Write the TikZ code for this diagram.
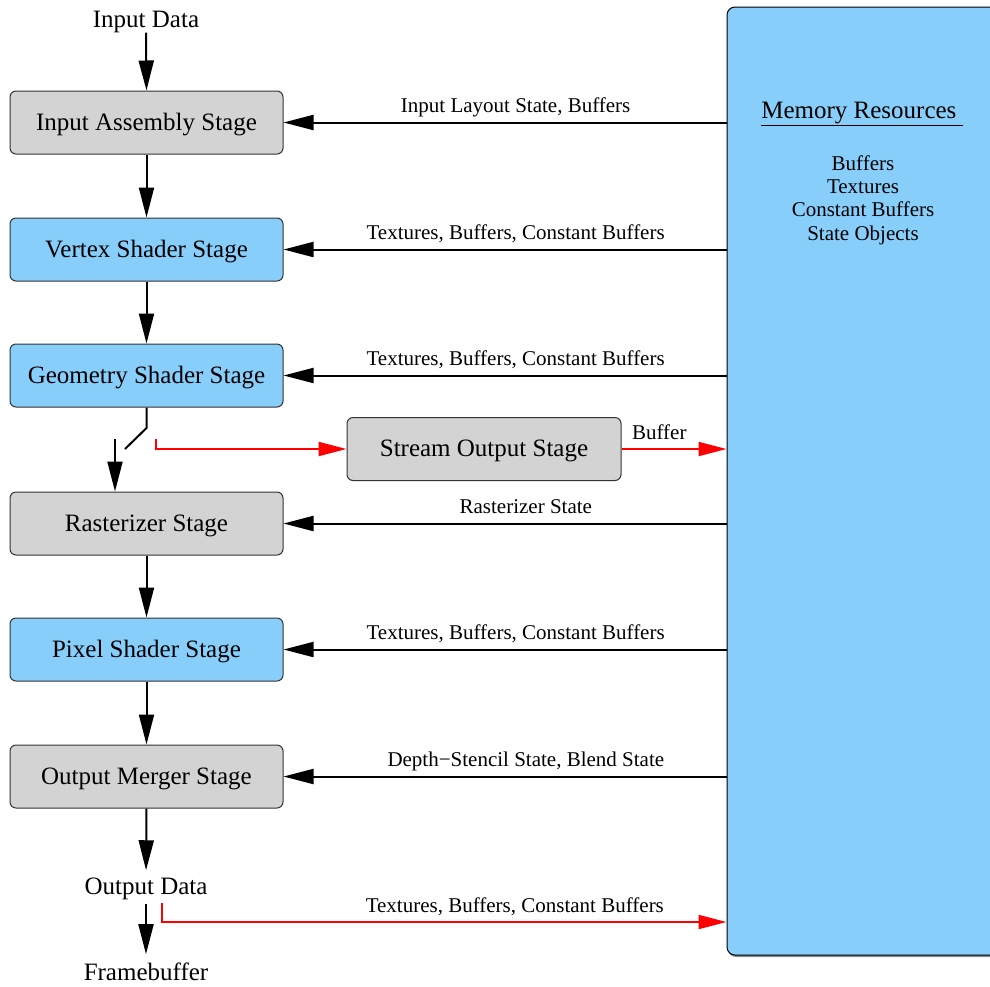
\documentclass[tikz,border=0pt]{standalone}
\usepackage{fontspec}
\setmainfont{Liberation Serif}
\usetikzlibrary{arrows.meta,shadows}
\definecolor{stagegray}{HTML}{D3D3D3}
\definecolor{stageblue}{HTML}{87CEFA}
\begin{document}
\begin{tikzpicture}[x=1pt,y=-1pt,
  stage/.style={draw=black!80, line width=1pt, rounded corners=6pt, minimum width=273pt, minimum height=63pt, font=\fontsize{25}{30}\selectfont, inner sep=0pt, text height=17pt, text depth=2pt},
  graystage/.style={stage, fill=stagegray},
  bluestage/.style={stage, fill=stageblue},
  arr/.style={line width=2pt, -{Triangle[length=30pt,width=15pt]}},
  redarr/.style={red, line width=2pt, -{Triangle[length=28pt,width=14pt]}},
  elabel/.style={font=\fontsize{21}{25}\selectfont, anchor=base, inner sep=0pt, yshift=10pt, black},
  plain/.style={font=\fontsize{25}{30}\selectfont, inner sep=0pt, anchor=base}
]
\path[use as bounding box] (0,0) rectangle (990,986);

% memory resources
\node[draw=black, line width=1pt, fill=stageblue, rounded corners=8pt, minimum width=290pt, minimum height=948pt, inner sep=0pt,
      drop shadow={shadow xshift=1pt, shadow yshift=-2pt, fill=black!45, opacity=1}] (mem) at (872,481) {};
\node[plain] (memtitle) at (862,118) {\underline{Memory Resources\ }};
\node[font=\fontsize{21}{23.4}\selectfont, align=center, inner sep=0pt] (memitems) at (863,200) {Buffers\\Textures\\Constant Buffers\\State Objects};

% pipeline
\node[plain] (indata) at (146,27) {Input Data};
\node[graystage] (ia) at (146.5,122.5) {Input Assembly Stage};
\node[bluestage] (vs) at (146.5,249.5) {Vertex Shader Stage};
\node[bluestage] (gs) at (146.5,375.5) {Geometry Shader Stage};
\node[graystage] (rs) at (146.5,523.5) {Rasterizer Stage};
\node[bluestage] (ps) at (146.5,649.5) {Pixel Shader Stage};
\node[graystage] (om) at (146.5,776.5) {Output Merger Stage};
\node[graystage, minimum width=274pt] (so) at (484,449) {Stream Output Stage};
\node[plain] (outdata) at (146,894) {Output Data};
\node[plain] (fb) at (146,980) {Framebuffer};

\draw[arr] (indata.south) -- (ia.north);
\draw[arr] (ia.south) -- (vs.north);
\draw[arr] (vs.south) -- (gs.north);
\draw[arr] (rs.south) -- (ps.north);
\draw[arr] (ps.south) -- (om.north);
\draw[arr, shorten >=7pt] (om.south) -- (outdata.north);
\draw[arr, shorten <=4pt, shorten >=8pt] (outdata.south) -- (fb.north);

% switch
\coordinate (sw1) at (146.5,428);
\coordinate (sw2) at (125,449);
\draw[line width=2pt] (gs.south) -- (sw1) -- (sw2);
\coordinate (swin) at (115,439);
\draw[arr] (swin) -- (swin |- rs.north);
\coordinate (redstart) at (156,439);
\draw[redarr] (redstart) |- (so.west);
\draw[redarr] (so.east) -- (so.east -| mem.west) node[elabel, pos=0.36] {Buffer};

% memory connections
\draw[arr] (ia.east -| mem.west) -- (ia.east) node[elabel, pos=0.476] {Input Layout State, Buffers};
\draw[arr] (vs.east -| mem.west) -- (vs.east) node[elabel, pos=0.476] {Textures, Buffers, Constant Buffers};
\draw[arr] (gs.east -| mem.west) -- (gs.east) node[elabel, pos=0.476] {Textures, Buffers, Constant Buffers};
\draw[arr] (rs.east -| mem.west) -- (rs.east) node[elabel, pos=0.453] {Rasterizer State};
\draw[arr] (ps.east -| mem.west) -- (ps.east) node[elabel, pos=0.476] {Textures, Buffers, Constant Buffers};
\draw[arr] (om.east -| mem.west) -- (om.east) node[elabel, pos=0.453] {Depth−Stencil State, Blend State};

% output to memory
\coordinate (redout) at (162,903);
\coordinate (redy) at (0,922);
\draw[redarr] (redout) |- (mem.west |- redy) node[elabel, pos=0.8125] {Textures, Buffers, Constant Buffers};
\end{tikzpicture}
\end{document}
